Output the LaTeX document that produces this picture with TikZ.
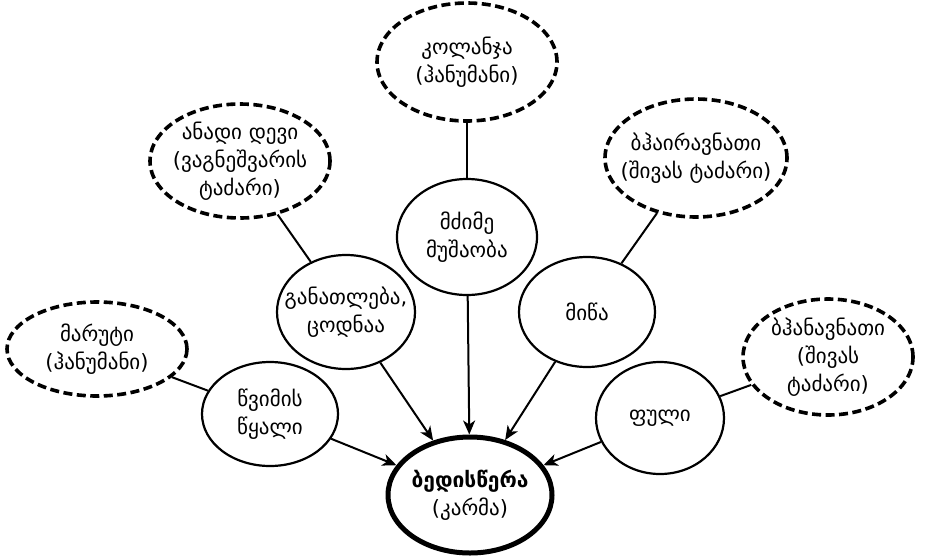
\documentclass[tikz,border=0pt]{standalone}
\usepackage{fontspec}
\setmainfont{DejaVu Sans}
\usetikzlibrary{shapes.geometric,arrows.meta}
\newcommand{\zb}[1]{\makebox[0pt]{#1}}
\begin{document}
\begin{tikzpicture}[x=1pt,y=-1pt,
  base/.style={ellipse,inner sep=0pt,align=center,font=\fontsize{21}{28}\selectfont},
  inner/.style={base,draw,line width=2.2pt},
  outer/.style={base,draw,line width=3.6pt,dash pattern=on 9pt off 4.5pt},
  core/.style={base,draw,line width=5pt},
  link/.style={line width=2pt},
  arr/.style={line width=2pt,-{Stealth[length=14pt,width=12pt,inset=4pt]}}
]
\useasboundingbox (0,0) rectangle (926,555);
% centre
\node[core,minimum width=164pt,minimum height=116pt] (karma) at (470,495)
  {\zb{\textbf{ბედისწერა}}\\\zb{(კარმა)}};
% inner ring
\node[inner,minimum width=140pt,minimum height=116pt] (work) at (467,237) {\zb{მძიმე}\\\zb{მუშაობა}};
\node[inner,minimum width=138pt,minimum height=114pt] (edu) at (346,312) {\zb{განათლება,}\\\zb{ცოდნაა}};
\node[inner,minimum width=136pt,minimum height=110pt] (land) at (587,312) {\zb{მიწა}};
\node[inner,minimum width=136pt,minimum height=104pt] (rain) at (270,414) {\zb{წვიმის}\\\zb{წყალი}};
\node[inner,minimum width=128pt,minimum height=112pt] (money) at (660,418) {\zb{ფული}};
% outer ring
\node[outer,minimum width=180pt,minimum height=118pt] (kol) at (467,62) {\zb{კოლანჯა}\\\zb{(ჰანუმანი)}};
\node[outer,minimum width=180pt,minimum height=114pt] (anadi) at (240,161) {\zb{ანადი დევი}\\\zb{(ვაგნეშვარის}\\\zb{ტაძარი)}};
\node[outer,minimum width=182pt,minimum height=118pt] (bhai) at (696,158) {\zb{ბჰაირავნათი}\\\zb{(შივას ტაძარი)}};
\node[outer,minimum width=180pt,minimum height=94pt] (marut) at (97,349) {\zb{მარუტი}\\\zb{(ჰანუმანი)}};
\node[outer,minimum width=170pt,minimum height=116pt] (bhan) at (828,357) {\zb{ბჰანავნათი}\\\zb{(შივას}\\\zb{ტაძარი)}};
% links
\draw[link] (kol) -- (work);
\draw[link] (anadi) -- (edu);
\draw[link] (bhai) -- (land);
\draw[link] (marut) -- (rain);
\draw[link] (bhan) -- (money);
% arrows
\draw[arr] (work) -- (karma);
\draw[arr] (edu) -- (karma);
\draw[arr] (land) -- (karma);
\draw[arr] (rain) -- (karma);
\draw[arr] (money) -- (karma);
\end{tikzpicture}
\end{document}
